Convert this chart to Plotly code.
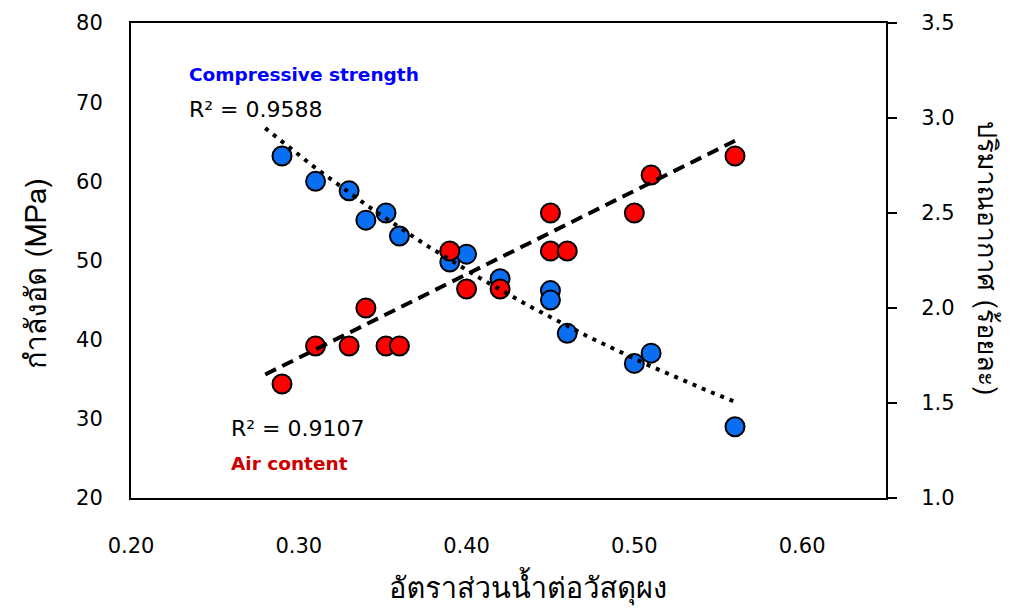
import numpy as np
import plotly.graph_objects as go

# ---- data ----
wb_ratio = [0.29, 0.31, 0.33, 0.34, 0.352, 0.36, 0.39, 0.40, 0.42, 0.45, 0.45, 0.46, 0.50, 0.51, 0.56]
compressive = [63.2, 60.0, 58.8, 55.1, 56.0, 53.1, 49.8, 50.8, 47.7, 46.2, 45.0, 40.8, 37.0, 38.3, 29.0]
air_content = [1.6, 1.8, 1.8, 2.0, 1.8, 1.8, 2.3, 2.1, 2.1, 2.5, 2.3, 2.3, 2.5, 2.7, 2.8]

x_ticks = [0.20, 0.30, 0.40, 0.50, 0.60]
x_ticktext = ["0.20", "0.30", "0.40", "0.50", "0.60"]

# linear trend of air content as drawn in the reference (read at its ends)
air_trend_x = [0.28, 0.56]
air_trend_y = [1.65, 2.88]
# exponential trend range for compressive strength
cs_trend_range = [0.28, 0.56]

r2_strength = "R² = 0.9588"
r2_air = "R² = 0.9107"

# ---- exponential trend (computed from the data) ----
wb = np.array(wb_ratio)
xs = np.linspace(cs_trend_range[0], cs_trend_range[1], 80)
b, lna = np.polyfit(wb, np.log(np.array(compressive)), 1)
cs_fit = np.exp(lna + b * xs)

BLUE = "#0a6ef2"
RED = "#ff0000"

fig = go.Figure()
fig.add_trace(go.Scatter(x=wb_ratio, y=compressive, mode="markers", yaxis="y",
                         marker=dict(size=19, color=BLUE, line=dict(color="black", width=2)),
                         name="Compressive strength"))
fig.add_trace(go.Scatter(x=wb_ratio, y=air_content, mode="markers", yaxis="y2",
                         marker=dict(size=19, color=RED, line=dict(color="black", width=2)),
                         name="Air content"))
fig.add_trace(go.Scatter(x=air_trend_x, y=air_trend_y, mode="lines", yaxis="y2",
                         line=dict(color="black", width=4, dash="12px,7px"), name="Air fit"))
fig.add_trace(go.Scatter(x=xs, y=cs_fit, mode="lines", yaxis="y3",
                         line=dict(color="black", width=4, dash="4px,6px"), name="CS fit"))

tickfont = dict(family="DejaVu Sans", size=21, color="black")
fig.update_layout(
    width=1011, height=611,
    margin=dict(l=131, r=125, t=23, b=113),
    paper_bgcolor="white", plot_bgcolor="white",
    showlegend=False,
    xaxis=dict(range=[0.2, 0.65], tickvals=x_ticks, ticktext=x_ticktext,
               showline=True, linecolor="black", linewidth=2, mirror=True,
               ticks="", showgrid=False, zeroline=False, tickfont=tickfont,
               ticklabelstandoff=28, automargin=False),
    yaxis=dict(range=[20, 80], tickvals=[20, 30, 40, 50, 60, 70, 80],
               showline=True, linecolor="black", linewidth=2, mirror=True,
               ticks="", showgrid=False, zeroline=False, tickfont=tickfont,
               ticklabelstandoff=22, automargin=False),
    yaxis2=dict(range=[1.0, 3.5], tickvals=[1.0, 1.5, 2.0, 2.5, 3.0, 3.5], tickformat=".1f",
                overlaying="y", side="right", showline=True, linecolor="black", linewidth=2,
                ticks="outside", ticklen=9, tickwidth=2, tickcolor="black",
                showgrid=False, zeroline=False, tickfont=tickfont, ticklabelstandoff=20,
                automargin=False),
    yaxis3=dict(range=[20, 80], overlaying="y", visible=False),
)

thai_font = "Loma, Noto Sans Thai, Garuda, Noto Sans, DejaVu Sans, sans-serif"
annots = [
    dict(text="Compressive strength", x=(187 - 131) / 755, y=(498 - 75) / 475,
         font=dict(family="DejaVu Sans", size=18.5, color="#0000ff", weight="bold")),
    dict(text=r2_strength, x=(187 - 131) / 755, y=(498 - 109) / 475,
         font=dict(family="DejaVu Sans", size=22, color="black")),
    dict(text=r2_air, x=(229 - 131) / 755, y=(498 - 428) / 475,
         font=dict(family="DejaVu Sans", size=22, color="black")),
    dict(text="Air content", x=(229 - 131) / 755, y=(498 - 463) / 475,
         font=dict(family="DejaVu Sans", size=18.5, color="#cc0000", weight="bold")),
]
for a in annots:
    fig.add_annotation(xref="paper", yref="paper", xanchor="left", yanchor="middle",
                       showarrow=False, **a)

fig.add_annotation(text="กำลังอัด (MPa)", xref="paper", yref="paper",
                   x=(36 - 131) / 755, y=(498 - 274) / 475, textangle=-90,
                   showarrow=False, xanchor="center", yanchor="middle",
                   font=dict(family=thai_font, size=29, color="black"))
fig.add_annotation(text="ปริมาณอากาศ (ร้อยละ)", xref="paper", yref="paper",
                   x=(988 - 131) / 755, y=(498 - 258) / 475, textangle=90,
                   showarrow=False, xanchor="center", yanchor="middle",
                   font=dict(family=thai_font, size=27, color="black"))
fig.add_annotation(text="อัตราส่วนน้ำต่อวัสดุผง", xref="paper", yref="paper",
                   x=(528 - 131) / 755, y=(498 - 588) / 475,
                   showarrow=False, xanchor="center", yanchor="middle",
                   font=dict(family=thai_font, size=29, color="black"))

fig.write_html("out.html", config={"displayModeBar": False},
               post_script="document.body.style.margin='0';")
